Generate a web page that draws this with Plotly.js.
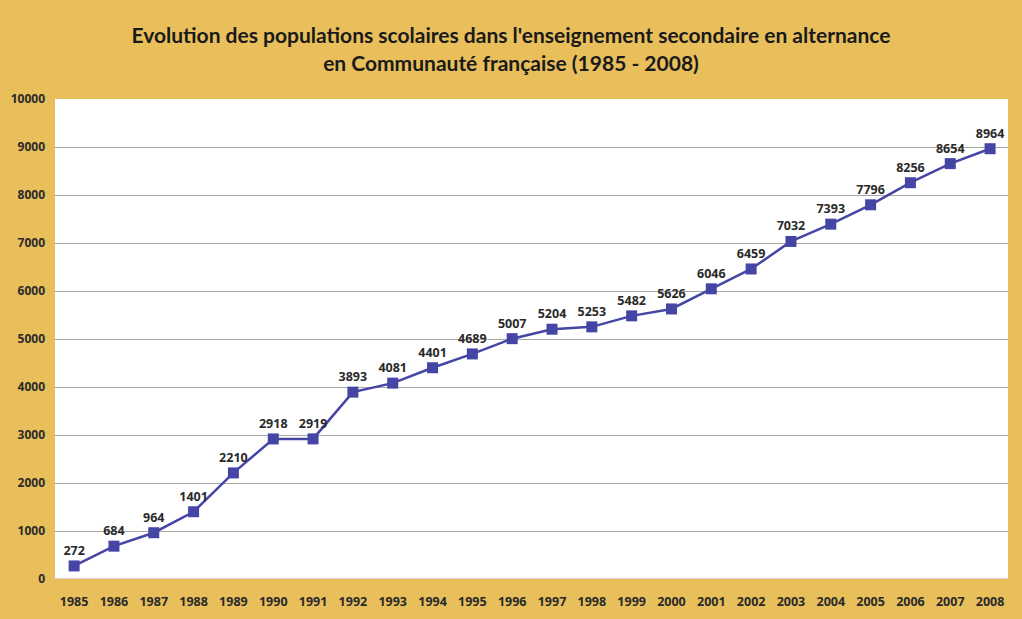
<!DOCTYPE html>
<html>
<head>
<meta charset="utf-8">
<script src="https://cdn.plot.ly/plotly-3.0.1.min.js"></script>
<style>
html,body{margin:0;padding:0;background:#E9BF5B;}
#chart{width:1022px;height:619px;}
</style>
</head>
<body>
<div id="chart"></div>
<script>
const years = ["1985","1986","1987","1988","1989","1990","1991","1992","1993","1994","1995","1996","1997","1998","1999","2000","2001","2002","2003","2004","2005","2006","2007","2008"];
const students = [272,684,964,1401,2210,2918,2919,3893,4081,4401,4689,5007,5204,5253,5482,5626,6046,6459,7032,7393,7796,8256,8654,8964];
const yTicks = [0,1000,2000,3000,4000,5000,6000,7000,8000,9000,10000];

const trace = {
  x: years,
  y: students,
  type: 'scatter',
  mode: 'lines+markers+text',
  text: students.map(String),
  textposition: 'top center',
  textfont: {family: 'Open Sans, sans-serif', size: 12.5, color: '#2a2a2a', weight: 'bold'},
  line: {color: '#4545A5', width: 2.5},
  marker: {symbol: 'square', size: 11, color: '#4545A5'},
  cliponaxis: false,
  hoverinfo: 'x+y'
};

const layout = {
  width: 1022, height: 619,
  paper_bgcolor: '#E9BF5B',
  plot_bgcolor: '#FFFFFF',
  margin: {l: 55, r: 14, t: 99, b: 40},
  showlegend: false,
  title: {
    text: "<b>Evolution des populations scolaires dans l'enseignement secondaire en alternance<br>en Communauté française (1985 - 2008)</b>",
    font: {family: 'Lato, sans-serif', size: 21, color: '#1a1a1a'},
    x: 0.5, xanchor: 'center', y: 0.93, yanchor: 'top'
  },
  xaxis: {
    type: 'category',
    range: [-0.48, 23.45],
    showgrid: false, zeroline: false,
    showline: false,
    ticks: '',
    ticklabelstandoff: 13,
    tickfont: {family: 'Open Sans, sans-serif', size: 12.5, color: '#2a2a2a', weight: 'bold'}
  },
  yaxis: {
    range: [0, 10000],
    tickvals: yTicks,
    ticktext: yTicks.map(String),
    showgrid: true, gridcolor: '#A8A8A8', gridwidth: 1,
    zeroline: false, showline: false,
    ticks: '',
    ticklabelstandoff: 9,
    tickfont: {family: 'Open Sans, sans-serif', size: 12, color: '#2a2a2a', weight: 'bold'}
  },
  shapes: [
    {type: 'line', xref: 'paper', yref: 'y', x0: 0, x1: 1, y0: 0, y1: 0, line: {color: '#A8A8A8', width: 1}}
  ]
};

Plotly.newPlot('chart', [trace], layout, {displayModeBar: false, staticPlot: true});
</script>
</body>
</html>
